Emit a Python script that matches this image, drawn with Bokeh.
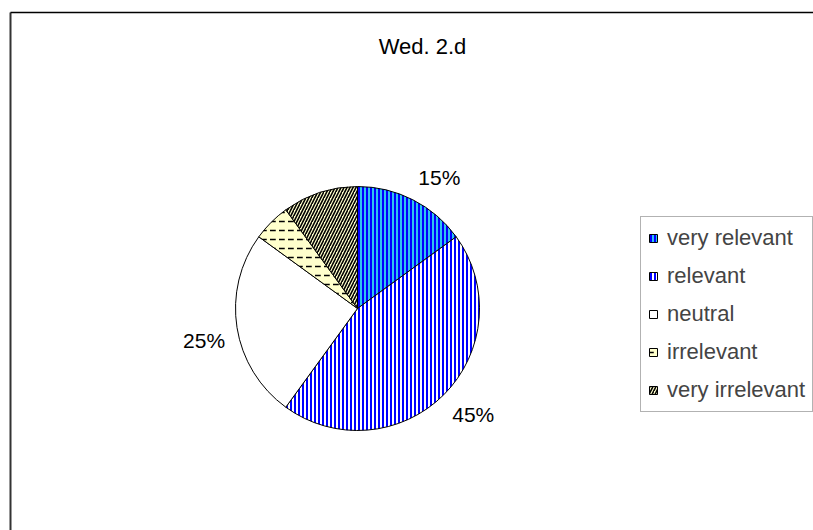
import math
from bokeh.plotting import figure
from bokeh.models import Legend, LegendItem, Label, Range1d
from bokeh.embed import file_html
from bokeh.resources import INLINE

categories = ["very relevant", "relevant", "neutral", "irrelevant", "very irrelevant"]
shares = [15, 45, 25, 5, 10]
shown_labels = ["15%", "45%", "25%", "", ""]
fills = ["#2EC4F0", "#FFFFFF", "#FFFFFF", "#FFFFCC", "#FFFFCC"]
hatches = ["vertical_line", "vertical_line", None, "horizontal_dash", "right_diagonal_line"]
hatch_colors = ["#0000FF", "#0000FF", "#000000", "#000000", "#000000"]
hatch_scales = [4, 4, 4, 9, 6]
hatch_weights = [2, 2, 1, 1.5, 1.6]

W, H = 813, 530
FONT = "Liberation Sans"

p = figure(width=W, height=H, output_backend="svg", toolbar_location=None,
           x_range=Range1d(0, W), y_range=Range1d(0, H), min_border=0)
p.axis.visible = False
p.grid.visible = False
p.outline_line_color = None
p.background_fill_color = "white"

# outer chart frame (only top and left edges fall inside the crop)
p.line(x=[10, 10], y=[-50, 518], line_color="#333333", line_width=2)
p.line(x=[10, W + 50], y=[518, 518], line_color="black", line_width=1.5)

cx, cy, r = 357, 222, 122
total = sum(shares)
starts, ends, mids = [], [], []
cum = 0.0
for s in shares:
    a0 = math.pi / 2 - 2 * math.pi * cum / total
    cum += s
    a1 = math.pi / 2 - 2 * math.pi * cum / total
    starts.append(a0)
    ends.append(a1)
    mids.append((a0 + a1) / 2)

renderers = []
for i in range(len(categories)):
    rr = p.wedge(x=cx, y=cy, radius=r, start_angle=starts[i], end_angle=ends[i],
                 direction="clock", fill_color=fills[i], line_color="black", line_width=1,
                 hatch_pattern=hatches[i], hatch_color=hatch_colors[i],
                 hatch_scale=hatch_scales[i], hatch_weight=hatch_weights[i])
    renderers.append(rr)

R = 134
for m, t in zip(mids, shown_labels):
    if not t:
        continue
    c, s = math.cos(m), math.sin(m)
    p.add_layout(Label(x=cx + R * c, y=cy + R * s, text=t,
                       text_align="left" if c >= 0 else "right",
                       text_baseline="bottom" if s >= 0 else "top",
                       text_font=FONT, text_font_size="21px", text_color="black"))

p.add_layout(Label(x=422, y=484, text="Wed. 2.d", text_align="center", text_baseline="middle",
                   text_font=FONT, text_font_size="22px", text_color="black"))

legend = Legend(items=[LegendItem(label=c, renderers=[renderers[i]]) for i, c in enumerate(categories)],
                location=(640, 118), glyph_width=10, glyph_height=10, label_height=28,
                spacing=10, padding=7, margin=0, label_standoff=9,
                label_text_font=FONT, label_text_font_size="22px",
                label_text_baseline="middle",
                border_line_color="#666666", border_line_width=1,
                background_fill_color="white", background_fill_alpha=1)
p.add_layout(legend)

open("out.html", "w").write(file_html(p, INLINE))
